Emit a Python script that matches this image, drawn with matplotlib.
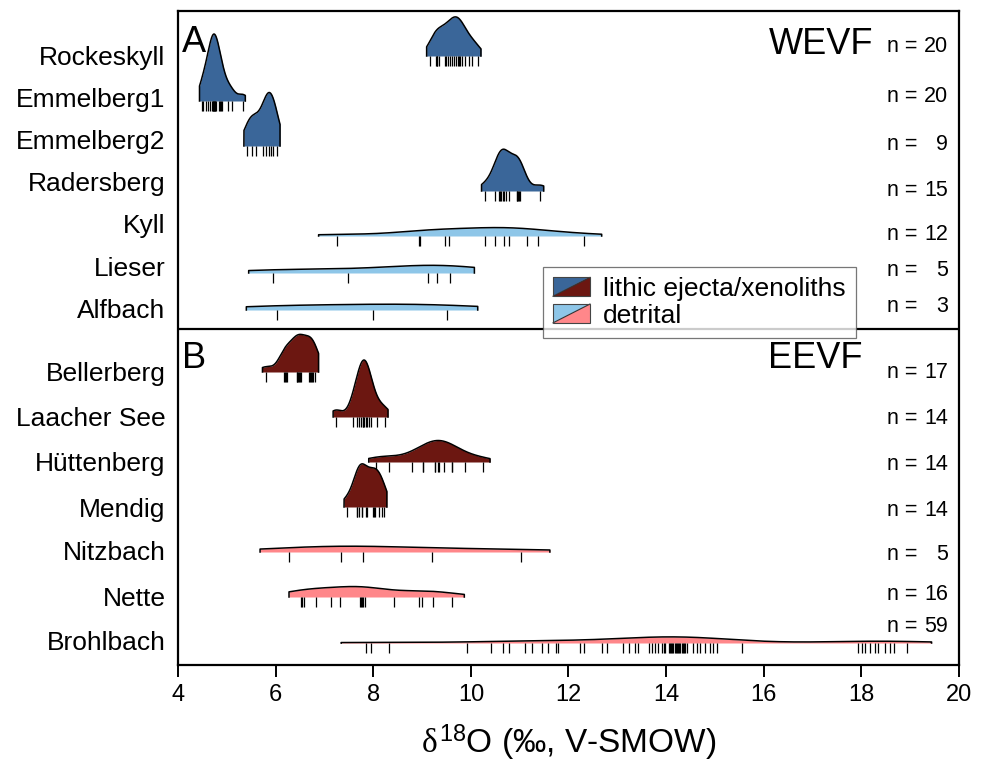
import numpy as np
import matplotlib
matplotlib.use('Agg')
import matplotlib.pyplot as plt
from matplotlib.patches import Polygon, Rectangle, Patch
from matplotlib.lines import Line2D
from matplotlib.legend_handler import HandlerBase

plt.rcParams['font.family'] = ['Liberation Sans', 'DejaVu Sans']
plt.rcParams['mathtext.fontset'] = 'custom'
plt.rcParams['mathtext.rm'] = 'Liberation Sans'
plt.rcParams['mathtext.it'] = 'Liberation Serif'

# ---------------- data (d18O, permil V-SMOW) ----------------
rockeskyll = [9.16, 9.29, 9.30, 9.31, 9.34, 9.47, 9.50, 9.54, 9.58, 9.62,
              9.66, 9.70, 9.74, 9.76, 9.78, 9.81, 9.88, 9.97, 10.03, 10.14]
emmelberg1 = [4.49, 4.52, 4.57, 4.62, 4.66, 4.69, 4.71, 4.72, 4.73, 4.74,
              4.75, 4.76, 4.78, 4.84, 4.86, 4.89, 4.91, 5.03, 5.10, 5.33]
emmelberg2 = [5.41, 5.52, 5.60, 5.75, 5.81, 5.86, 5.90, 5.95, 6.03]
radersberg = [10.29, 10.50, 10.58, 10.60, 10.62, 10.65, 10.67, 10.72, 10.79,
              10.94, 10.95, 10.97, 10.99, 11.01, 11.42]
kyll = [7.25, 8.94, 8.95, 9.48, 9.56, 10.28, 10.49, 10.67, 10.79, 11.14, 11.38, 12.31]
lieser = [5.95, 7.49, 9.13, 9.30, 9.57]
alfbach = [6.03, 7.99, 9.51]

bellerberg = [5.80, 6.18, 6.19, 6.21, 6.23, 6.43, 6.44, 6.45, 6.47, 6.49,
              6.51, 6.69, 6.71, 6.73, 6.75, 6.76, 6.81]
laacher_see = [7.24, 7.58, 7.66, 7.71, 7.75, 7.78, 7.80, 7.82, 7.85, 7.88,
               7.91, 7.95, 8.08, 8.24]
huettenberg = [8.06, 8.33, 8.79, 9.01, 9.02, 9.26, 9.27, 9.33, 9.35, 9.44,
               9.61, 9.62, 9.88, 10.24]
mendig = [7.46, 7.66, 7.67, 7.70, 7.76, 7.77, 7.86, 7.87, 8.00, 8.01,
          8.03, 8.12, 8.17, 8.22]
nitzbach = [6.28, 7.34, 7.78, 9.20, 11.02]
nette = [6.53, 6.55, 6.58, 6.83, 7.14, 7.32, 7.72, 7.75, 7.77, 7.80,
         7.84, 8.43, 8.93, 8.99, 9.23, 9.61]
brohlbach = [7.85, 7.95, 8.33, 9.92, 10.41, 10.65, 10.79, 11.11, 11.25, 11.45,
             11.59, 11.75, 11.79, 12.24, 12.31, 12.68, 12.78, 13.12, 13.23, 13.36,
             13.43, 13.64, 13.71, 13.77, 13.84, 13.91, 13.95, 13.98, 14.05, 14.07,
             14.10, 14.12, 14.14, 14.18, 14.20, 14.22, 14.25, 14.27, 14.29, 14.32,
             14.34, 14.36, 14.39, 14.42, 14.56, 14.63, 14.70, 14.80, 14.90, 14.97,
             15.04, 15.55, 17.94, 18.01, 18.08, 18.18, 18.28, 18.35, 18.49, 18.59,
             18.66, 18.93]

top_sites = ['Rockeskyll', 'Emmelberg1', 'Emmelberg2', 'Radersberg', 'Kyll', 'Lieser', 'Alfbach']
top_values = [rockeskyll, emmelberg1, emmelberg2, radersberg, kyll, lieser, alfbach]
top_n = [20, 20, 9, 15, 12, 5, 3]
top_kind = ['lithic', 'lithic', 'lithic', 'lithic', 'detrital', 'detrital', 'detrital']

bot_sites = ['Bellerberg', 'Laacher See', 'Hüttenberg', 'Mendig', 'Nitzbach', 'Nette', 'Brohlbach']
bot_values = [bellerberg, laacher_see, huettenberg, mendig, nitzbach, nette, brohlbach]
bot_n = [17, 14, 14, 14, 5, 16, 59]
bot_kind = ['lithic', 'lithic', 'lithic', 'lithic', 'detrital', 'detrital', 'detrital']

x_ticks = [4, 6, 8, 10, 12, 14, 16, 18, 20]

# ---------------- layout (vertical positions in pixel-like units) -------------
top_label_y = [55, 97, 140, 182, 224, 267, 308]
top_base_y = [56, 101, 146, 191, 236, 273, 310]
top_n_y = [47, 97, 144, 190, 235, 270, 307]
bot_label_y = [371, 416, 462, 507, 551, 597, 640]
bot_base_y = [372, 417, 462, 507, 552, 597, 643]
bot_n_y = [372, 418, 464, 511, 554, 594, 627]
top_max_h = 67
bot_max_h = 57

colors = {
    ('top', 'lithic'): '#3a6699',
    ('top', 'detrital'): '#8ec6e8',
    ('bot', 'lithic'): '#6c1711',
    ('bot', 'detrital'): '#ff878a',
}


def kde(vals):
    v = np.asarray(vals, float)
    n = len(v)
    bw = 0.9 * v.std(ddof=1) * n ** (-0.2)
    lo, hi = v.min() - 0.5 * bw, v.max() + 0.5 * bw
    xg = np.linspace(lo, hi, 400)
    d = np.exp(-0.5 * ((xg[:, None] - v[None, :]) / bw) ** 2).sum(1) / (n * bw * np.sqrt(2 * np.pi))
    return xg, d


fig = plt.figure(figsize=(9.87, 7.67), dpi=100)
ax = fig.add_axes([178 / 987, 1 - 665 / 767, (959 - 178) / 987, (665 - 11) / 767])
ax.set_xlim(4, 20)
ax.set_ylim(665, 11)


def draw_panel(values, kinds, bases, max_h, panel):
    dens = [kde(v) for v in values]
    dmax = max(d.max() for _, d in dens)
    for i, ((xg, d), vals, kind, base) in enumerate(zip(dens, values, kinds, bases)):
        h = d / dmax * max_h
        z = 2 + i
        ax.fill_between(xg, base - h, base, color=colors[(panel, kind)], lw=0, zorder=z)
        ox = np.concatenate([[xg[0]], xg, [xg[-1]]])
        oy = np.concatenate([[base], base - h, [base]])
        ax.plot(ox, oy, color='black', lw=1.1, zorder=z + 0.1, solid_joinstyle='round')
        ax.vlines(vals, base, base + 9.5, color='black', lw=0.9, zorder=z + 0.2)


draw_panel(top_values, top_kind, top_base_y, top_max_h, 'top')
draw_panel(bot_values, bot_kind, bot_base_y, bot_max_h, 'bot')

ax.axhline(329, color='black', lw=1.6, zorder=30)

ax.set_yticks(top_label_y + bot_label_y)
ax.set_yticklabels(top_sites + bot_sites, fontsize=19)
ax.tick_params(axis='y', length=0, pad=9)
ax.set_xticks(x_ticks)
ax.set_xticklabels([str(t) for t in x_ticks], fontsize=17)
ax.tick_params(axis='x', length=8.5, width=1.4, pad=5, direction='out')
for s in ax.spines.values():
    s.set_linewidth(1.6)
ax.set_xlabel(r'$\delta^{18}$O (‰, V-SMOW)', fontsize=24, labelpad=12)


def xpix(px):
    return 4 + (px - 178) / (959 - 178) * 16


for ny, n in list(zip(top_n_y, top_n)) + list(zip(bot_n_y, bot_n)):
    ax.text(xpix(887), ny, 'n =', fontsize=15.5, ha='left', va='center', zorder=40)
    ax.text(xpix(948), ny, str(n), fontsize=15.5, ha='right', va='center', zorder=40)

ax.text(xpix(182), 43, 'A', fontsize=26, ha='left', va='center', zorder=40)
ax.text(xpix(182), 358, 'B', fontsize=26, ha='left', va='center', zorder=40)
ax.text(xpix(873), 44, 'WEVF', fontsize=26, ha='right', va='center', zorder=40)
ax.text(xpix(863), 358, 'EEVF', fontsize=26, ha='right', va='center', zorder=40)


class SplitHandler(HandlerBase):
    def __init__(self, c1, c2):
        super().__init__()
        self.c1, self.c2 = c1, c2

    def create_artists(self, legend, orig_handle, xdescent, ydescent, width, height, fontsize, trans):
        x0, y0 = -xdescent, -ydescent
        p1 = Polygon([[x0, y0], [x0, y0 + height], [x0 + width, y0 + height]], closed=True,
                     fc=self.c1, ec='none', transform=trans)
        p2 = Polygon([[x0, y0], [x0 + width, y0], [x0 + width, y0 + height]], closed=True,
                     fc=self.c2, ec='none', transform=trans)
        ln = Line2D([x0, x0 + width], [y0, y0 + height], color='#333333', lw=0.8, transform=trans)
        fr = Rectangle((x0, y0), width, height, fc='none', ec='#444444', lw=0.8, transform=trans)
        return [p1, p2, ln, fr]


h1 = Patch(label='lithic ejecta/xenoliths')
h2 = Patch(label='detrital')
leg = ax.legend(handles=[h1, h2], loc='upper left',
                bbox_to_anchor=(543 / 987, 1 - 267 / 767), bbox_transform=fig.transFigure,
                borderaxespad=0, fontsize=19, frameon=True, fancybox=False,
                handlelength=1.4, handleheight=0.72, handletextpad=0.5,
                labelspacing=0.1, borderpad=0.38,
                handler_map={h1: SplitHandler(colors[('top', 'lithic')], colors[('bot', 'lithic')]),
                             h2: SplitHandler(colors[('top', 'detrital')], colors[('bot', 'detrital')])})
leg.get_frame().set_edgecolor('#555555')
leg.get_frame().set_linewidth(0.9)
leg.set_zorder(50)

fig.savefig('out.png', dpi=100)
